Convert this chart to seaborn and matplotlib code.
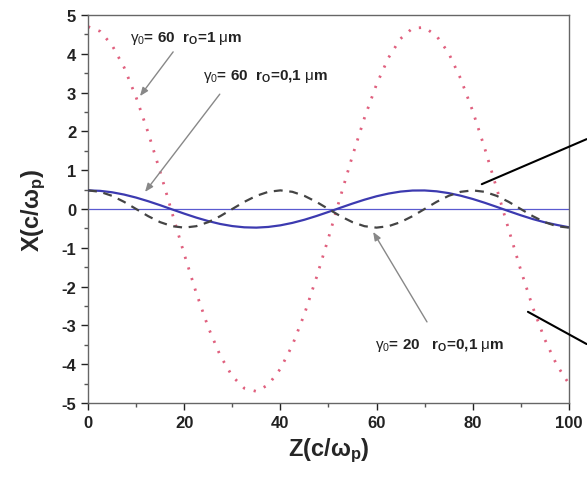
import numpy as np
import pandas as pd
import matplotlib
matplotlib.use("Agg")
import matplotlib.pyplot as plt
import seaborn as sns
from matplotlib.ticker import MultipleLocator

# ---- data (Z step 2.5) ----
z = [0, 2.5, 5, 7.5, 10, 12.5, 15, 17.5, 20, 22.5, 25, 27.5, 30, 32.5, 35, 37.5,
     40, 42.5, 45, 47.5, 50, 52.5, 55, 57.5, 60, 62.5, 65, 67.5, 70, 72.5, 75,
     77.5, 80, 82.5, 85, 87.5, 90, 92.5, 95, 97.5, 100]

x_g60_r1 = [4.70, 4.58, 4.22, 3.65, 2.88, 1.97, 0.96, -0.11, -1.16, -2.16, -3.05,
            -3.78, -4.31, -4.62, -4.70, -4.53, -4.12, -3.51, -2.71, -1.77, -0.75,
            0.32, 1.37, 2.35, 3.21, 3.90, 4.39, 4.66, 4.68, 4.46, 4.02, 3.36, 2.53,
            1.57, 0.53, -0.53, -1.57, -2.53, -3.36, -4.02, -4.50]

x_g60_r01 = [0.48, 0.443, 0.339, 0.184, 0.0, -0.184, -0.339, -0.443, -0.48, -0.443,
             -0.339, -0.184, 0.0, 0.184, 0.339, 0.443, 0.48, 0.443, 0.339, 0.184,
             0.0, -0.184, -0.339, -0.443, -0.48, -0.443, -0.339, -0.184, 0.0, 0.184,
             0.339, 0.443, 0.48, 0.443, 0.339, 0.184, 0.0, -0.184, -0.339, -0.443, -0.48]

x_g20_r01 = [0.48, 0.468, 0.431, 0.372, 0.294, 0.201, 0.098, -0.011, -0.119, -0.221,
             -0.311, -0.386, -0.440, -0.472, -0.480, -0.462, -0.421, -0.358, -0.277,
             -0.181, -0.076, 0.033, 0.140, 0.240, 0.328, 0.398, 0.449, 0.476, 0.478,
             0.456, 0.410, 0.343, 0.259, 0.161, 0.055, -0.055, -0.161, -0.259, -0.343,
             -0.410, -0.470]

x_ticks = [0, 20, 40, 60, 80, 100]
y_ticks = [-5, -4, -3, -2, -1, 0, 1, 2, 3, 4, 5]

df = pd.DataFrame({"z": z, "r1": x_g60_r1, "r01": x_g60_r01, "g20": x_g20_r01})

sns.set_style("ticks")
plt.rcParams["font.family"] = ["Liberation Sans", "DejaVu Sans"]
plt.rcParams["axes.unicode_minus"] = False
plt.rcParams["mathtext.fontset"] = "custom"
plt.rcParams["mathtext.rm"] = "Liberation Sans"
plt.rcParams["mathtext.it"] = "Liberation Sans"
plt.rcParams["mathtext.bf"] = "Liberation Sans:bold"

fig = plt.figure(figsize=(5.87, 4.85), dpi=100)
ax = fig.add_axes([0.150, 0.167, 0.819, 0.800])

ax.axhline(0, color="#5a5ad0", lw=0.9, zorder=1)
sns.lineplot(data=df, x="z", y="r1", ax=ax, color="#e0607e", lw=2.0,
             linestyle=(0, (0.8, 3.2)), zorder=2)
sns.lineplot(data=df, x="z", y="g20", ax=ax, color="#3c3ab0", lw=1.6, zorder=3)
sns.lineplot(data=df, x="z", y="r01", ax=ax, color="#444444", lw=1.6,
             linestyle=(0, (4, 3)), zorder=4)

ax.set_xlim(0, 100)
ax.set_ylim(-5, 5)
ax.set_xticks(x_ticks)
ax.set_yticks(y_ticks)
ax.xaxis.set_minor_locator(MultipleLocator(10))
ax.yaxis.set_minor_locator(MultipleLocator(0.5))
ax.tick_params(axis="both", which="major", direction="out", length=5, width=1,
               labelsize=12, colors="#222222")
ax.tick_params(axis="both", which="minor", direction="out", length=3, width=1,
               colors="#555555")
for lbl in ax.get_xticklabels() + ax.get_yticklabels():
    lbl.set_fontweight("bold")
for s in ax.spines.values():
    s.set_color("#666666")
    s.set_linewidth(1.0)

ax.set_xlabel("Z(c/ω$_\\mathbf{p}$)", fontsize=17, fontweight="bold", labelpad=4)
ax.set_ylabel("X(c/ω$_\\mathbf{p}$)", fontsize=17, fontweight="bold", labelpad=10)

tkw = dict(fontsize=11, fontweight="bold", color="#222222", va="center")
ax.text(8.7, 4.43, r"$\gamma_0$= 60  $\mathbf{r_O}$=1 $\mu$m", **tkw)
ax.text(23.9, 3.43, r"$\gamma_0$= 60  $\mathbf{r_O}$=0,1 $\mu$m", **tkw)
ax.text(59.7, -3.48, r"$\gamma_0$= 20   $\mathbf{r_O}$=0,1 $\mu$m", **tkw)

akw = dict(arrowstyle="-|>,head_length=0.5,head_width=0.2", color="#888888", lw=1.0,
           shrinkA=0, shrinkB=0)
ax.annotate("", xy=(10.8, 2.91), xytext=(17.7, 4.05), arrowprops=akw)
ax.annotate("", xy=(11.85, 0.44), xytext=(27.4, 2.96), arrowprops=akw)
ax.annotate("", xy=(59.3, -0.59), xytext=(70.5, -2.91), arrowprops=akw)

lkw = dict(arrowstyle="-", color="black", lw=1.5, shrinkA=0, shrinkB=0)
ax.annotate("", xy=(103.7, 1.80), xytext=(81.9, 0.64), arrowprops=lkw,
            annotation_clip=False)
ax.annotate("", xy=(103.7, -3.48), xytext=(91.5, -2.65), arrowprops=lkw,
            annotation_clip=False)

fig.savefig("out.png", dpi=100)
